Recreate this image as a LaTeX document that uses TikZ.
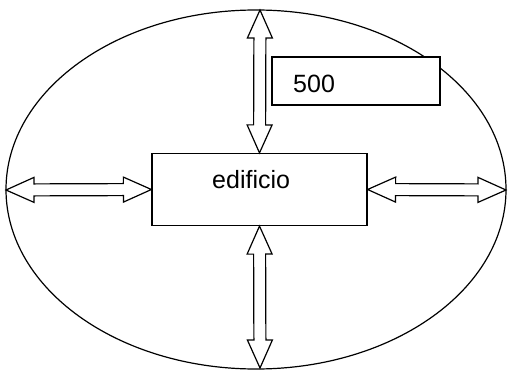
\documentclass[tikz,border=0pt]{standalone}
\usepackage{fontspec}
\setmainfont{Liberation Sans}
\usetikzlibrary{calc}
\tikzset{
  outline/.style={draw=black, line width=1.2pt},
  boxnode/.style={outline, fill=white, inner sep=0pt},
  lbl/.style={font=\fontsize{25}{29}\selectfont, inner sep=0pt},
  arrowline/.style={outline, line join=miter, fill=white}
}
\newcommand{\dblarr}[2]{%
  \coordinate (pa) at ($(#1)!28pt!(#2)$);
  \coordinate (pb) at ($(#2)!28pt!(#1)$);
  \draw[arrowline] (#1) -- ($(pa)!12.5pt!90:(#1)$) -- ($(pa)!6pt!90:(#1)$)
    -- ($(pb)!6pt!-90:(#2)$) -- ($(pb)!12.5pt!-90:(#2)$) -- (#2)
    -- ($(pb)!12.5pt!90:(#2)$) -- ($(pb)!6pt!90:(#2)$)
    -- ($(pa)!6pt!-90:(#1)$) -- ($(pa)!12.5pt!-90:(#1)$) -- cycle;}
\begin{document}
\begin{tikzpicture}[x=1pt, y=-1pt]
  \useasboundingbox (0,0) rectangle (510,371);
  \draw[outline] (256,189.5) ellipse [x radius=250, y radius=179.5];
  \coordinate (etop) at (260,10);
  \coordinate (ebot) at (260,368);
  \coordinate (eleft) at (6,190);
  \coordinate (eright) at (506,190);
  \node[boxnode, minimum width=215pt, minimum height=72pt] (box) at (259.5,189.5) {};
  \node[boxnode, minimum width=168pt, minimum height=48pt] (num) at (356,81) {};
  \node[lbl, anchor=base west] (t1) at (212,189) {edificio};
  \node[lbl, anchor=base west] (t2) at (293,93) {500};
  \dblarr{etop}{box.north}
  \dblarr{box.south}{ebot}
  \dblarr{eleft}{box.west}
  \dblarr{box.east}{eright}
\end{tikzpicture}
\end{document}
